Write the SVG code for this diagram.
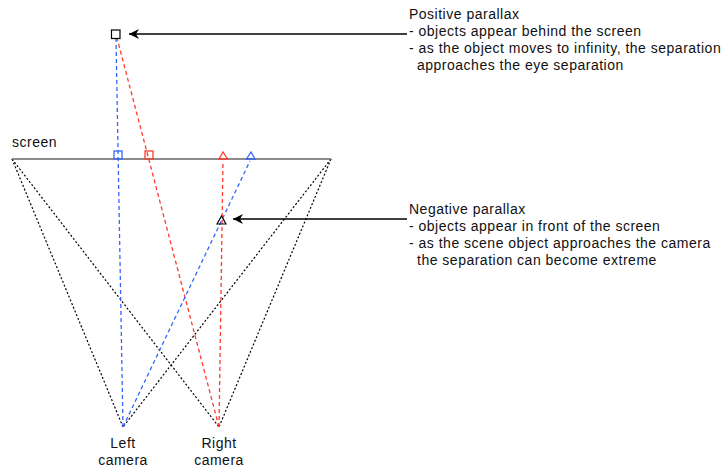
<svg xmlns="http://www.w3.org/2000/svg" width="725" height="472" viewBox="0 0 725 472">
<defs>
<style>
text{font-family:"Liberation Sans",Arial,sans-serif;font-size:14px;letter-spacing:0.5px;fill:#111}
.dot{stroke:#000;stroke-width:1.2;stroke-dasharray:2 2;fill:none}
.blue{stroke:#3366ff;stroke-width:1.3;stroke-dasharray:4 3;fill:none}
.red{stroke:#ff3b2f;stroke-width:1.3;stroke-dasharray:4 3;fill:none}
.arr{stroke:#000;stroke-width:1.3;fill:none;marker-end:url(#ah)}
</style>
<marker id="ah" markerWidth="12" markerHeight="10" refX="10" refY="5" orient="auto" markerUnits="userSpaceOnUse">
<path d="M0,0 L10,5 L0,10 L3,5 Z" fill="#000"/>
</marker>
</defs>
<g id="connectors">
<line class="dot" x1="12" y1="159" x2="123" y2="427"/>
<line class="dot" x1="12" y1="159" x2="219" y2="427"/>
<line class="dot" x1="331" y1="159" x2="123" y2="427"/>
<line class="dot" x1="331" y1="159" x2="219" y2="427"/>
<line class="blue" x1="123" y1="427" x2="116" y2="38"/>
<line class="red" x1="219" y1="427" x2="117" y2="38"/>
<line class="blue" x1="123" y1="427" x2="250" y2="161"/>
<line class="red" x1="219" y1="427" x2="223" y2="161"/>
<line class="arr" x1="407" y1="34" x2="129" y2="34"/>
<line class="arr" x1="407" y1="219" x2="233" y2="219"/>
</g>
<g id="screen">
<line x1="12" y1="159" x2="331" y2="159" stroke="#666" stroke-width="1.6"/>
<text x="12" y="147">screen</text>
</g>
<g id="screen-markers">
<rect x="114" y="151" width="8" height="8" fill="none" stroke="#3366ff" stroke-width="1.3"/>
<rect x="145" y="151" width="8" height="8" fill="none" stroke="#ff3b2f" stroke-width="1.3"/>
<path d="M219,159 L223,152 L227.5,159 Z" fill="none" stroke="#ff3b2f" stroke-width="1.3"/>
<path d="M246.5,159 L251,152 L255,159 Z" fill="none" stroke="#3366ff" stroke-width="1.3"/>
</g>
<g id="far-object">
<rect x="111.5" y="30" width="8.5" height="8.5" fill="none" stroke="#000" stroke-width="1.2"/>
</g>
<g id="near-object">
<path d="M217,224 L221.5,216 L226,224 Z" fill="none" stroke="#000" stroke-width="1.2"/>
</g>
<g id="positive-label">
<text x="409" y="19">Positive parallax</text>
<text x="409" y="36">- objects appear behind the screen</text>
<text x="409" y="53">- as the object moves to infinity, the separation</text>
<text x="417" y="70">approaches the eye separation</text>
</g>
<g id="negative-label">
<text x="409" y="214">Negative parallax</text>
<text x="409" y="231">- objects appear in front of the screen</text>
<text x="409" y="248">- as the scene object approaches the camera</text>
<text x="417" y="265">the separation can become extreme</text>
</g>
<g id="left-camera">
<text x="123" y="448" text-anchor="middle">Left</text>
<text x="123" y="465" text-anchor="middle">camera</text>
</g>
<g id="right-camera">
<text x="219" y="448" text-anchor="middle">Right</text>
<text x="219" y="465" text-anchor="middle">camera</text>
</g>
</svg>
